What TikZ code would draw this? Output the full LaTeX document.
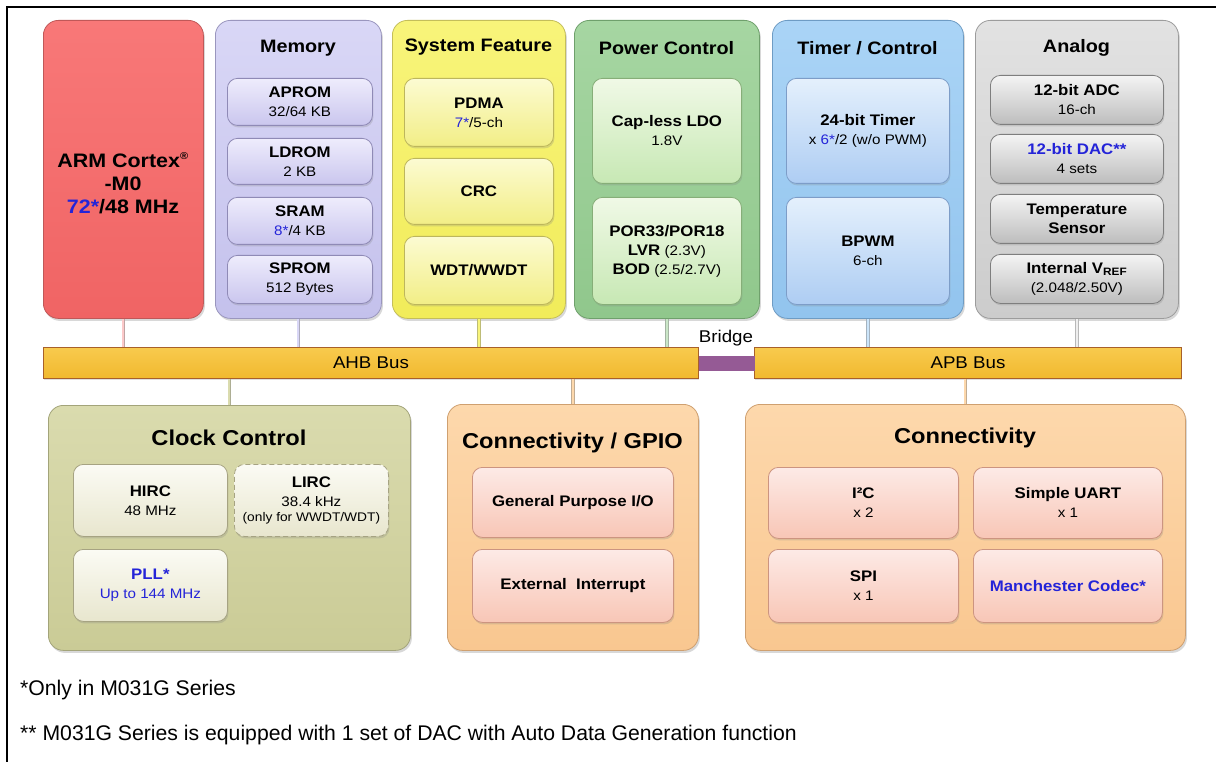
\documentclass[tikz,border=0pt]{standalone}
\usepackage{fontspec}
\setmainfont{Liberation Sans}
\newfontfamily\dfont{Liberation Sans}[FakeStretch=1.1]
\usetikzlibrary{shadows}
\definecolor{tblue}{HTML}{2424D8}
% outer colours
\definecolor{armT}{HTML}{F87878}\definecolor{armB}{HTML}{F06464}\definecolor{armD}{HTML}{C05858}
\definecolor{memT}{HTML}{D9D7F6}\definecolor{memB}{HTML}{C4C1EC}\definecolor{memD}{HTML}{9A96BE}
\definecolor{sysT}{HTML}{F8F47A}\definecolor{sysB}{HTML}{F1EC5A}\definecolor{sysD}{HTML}{C4BE5A}
\definecolor{pwrT}{HTML}{A6D6A2}\definecolor{pwrB}{HTML}{90C78C}\definecolor{pwrD}{HTML}{6FA06C}
\definecolor{tmrT}{HTML}{AAD4F6}\definecolor{tmrB}{HTML}{92C4EE}\definecolor{tmrD}{HTML}{6E9CC4}
\definecolor{anaT}{HTML}{E2E2E2}\definecolor{anaB}{HTML}{CCCCCC}\definecolor{anaD}{HTML}{9C9C9C}
\definecolor{clkT}{HTML}{DADBAE}\definecolor{clkB}{HTML}{CACB96}\definecolor{clkD}{HTML}{A3A47A}
\definecolor{conT}{HTML}{FDD8AC}\definecolor{conB}{HTML}{F9C790}\definecolor{conD}{HTML}{CFA070}
% inner colours
\definecolor{imemT}{HTML}{EEECFC}\definecolor{imemB}{HTML}{CAC6EE}\definecolor{imemD}{HTML}{8F8AB6}
\definecolor{isysT}{HTML}{FCFBD2}\definecolor{isysB}{HTML}{F2EE86}\definecolor{isysD}{HTML}{BDB65C}
\definecolor{ipwrT}{HTML}{F0F9E6}\definecolor{ipwrB}{HTML}{C7E8B4}\definecolor{ipwrD}{HTML}{86AE78}
\definecolor{itmrT}{HTML}{E4F0FC}\definecolor{itmrB}{HTML}{AECDF3}\definecolor{itmrD}{HTML}{7D9DC8}
\definecolor{ianaT}{HTML}{F4F4F4}\definecolor{ianaB}{HTML}{BDBDBD}\definecolor{ianaD}{HTML}{7E7E7E}
\definecolor{iclkT}{HTML}{FBFBF4}\definecolor{iclkB}{HTML}{E8E6CE}\definecolor{iclkD}{HTML}{A6A382}
\definecolor{iconT}{HTML}{FDEAE6}\definecolor{iconB}{HTML}{F8C6B6}\definecolor{iconD}{HTML}{CC9480}
\definecolor{busT}{HTML}{F8CA4E}\definecolor{busB}{HTML}{F1B92E}\definecolor{busD}{HTML}{A8602A}
\definecolor{brg}{HTML}{955A95}
\newcommand\boldl[1]{{\fontsize{15.3}{19}\selectfont\bfseries #1}}
\newcommand\regl[1]{{\fontsize{13.8}{19}\selectfont #1}}
\tikzset{
  outerbox/.style n args={3}{anchor=north west, inner sep=0pt, rounded corners=15pt,
    line width=0.8pt, draw=#3, top color=#1, bottom color=#2,
    drop shadow={shadow xshift=1.5pt, shadow yshift=-2.5pt, opacity=0.3}},
  innerbox/.style n args={3}{anchor=north west, inner sep=0pt, rounded corners=10pt,
    line width=0.8pt, draw=#3, top color=#1, bottom color=#2, align=center,
    font=\dfont\fontsize{14}{19}\selectfont,
    drop shadow={shadow xshift=1pt, shadow yshift=-2pt, opacity=0.25}},
  title/.style={font=\dfont\fontsize{18}{22}\selectfont\bfseries, inner sep=0pt},
  btitle/.style={font=\dfont\fontsize{21.5}{25}\selectfont\bfseries, inner sep=0pt},
  bus/.style={anchor=north west, inner sep=0pt, line width=0.9pt, draw=busD,
    top color=busT, bottom color=busB, font=\dfont\fontsize{17}{20}\selectfont,
    drop shadow={shadow xshift=1pt, shadow yshift=-1.5pt, opacity=0.25}},
  link/.style={draw=#1!70!black!80, double=#1, double distance=2pt, line width=0.6pt},
  note/.style={anchor=west, inner sep=0pt, font=\fontsize{21.2}{25}\selectfont},
}
\begin{document}
\begin{tikzpicture}[x=1pt,y=-1pt]
\useasboundingbox (0,0) rectangle (1216,762);
\fill[white] (0,0) rectangle (1216,762);
% frame
\draw[line width=2pt] (6.5,762) -- (6.5,7) -- (1216,7);

% ---------- top blocks ----------
\node[outerbox={armT}{armB}{armD}, minimum width=160pt, minimum height=298pt] (arm) at (43,20) {};
\node[font=\dfont\fontsize{19.5}{23}\selectfont\bfseries, align=center, inner sep=0pt] (armtxt) at (123,183)
  {ARM Cortex\textsuperscript{\fontsize{10}{10}\selectfont ®}\\-M0\\\textcolor{tblue}{72*}/48 MHz};

\node[outerbox={memT}{memB}{memD}, minimum width=166pt, minimum height=298pt] (mem) at (215,20) {};
\node[title] (memt) at (298,48) {Memory};
\node[innerbox={imemT}{imemB}{imemD}, minimum width=145pt, minimum height=47pt] (aprom) at (227,78) {\boldl{APROM}\\\regl{32/64 KB}};
\node[innerbox={imemT}{imemB}{imemD}, minimum width=145pt, minimum height=46pt] (ldrom) at (227,138) {\boldl{LDROM}\\\regl{2 KB}};
\node[innerbox={imemT}{imemB}{imemD}, minimum width=145pt, minimum height=47pt] (sram) at (227,197) {\boldl{SRAM}\\\regl{\textcolor{tblue}{8*}/4 KB}};
\node[innerbox={imemT}{imemB}{imemD}, minimum width=145pt, minimum height=48pt] (sprom) at (227,255) {\boldl{SPROM}\\\regl{512 Bytes}};

\node[outerbox={sysT}{sysB}{sysD}, minimum width=173pt, minimum height=298pt] (sys) at (392,20) {};
\node[title] (syst) at (478.5,47) {System Feature};
\node[innerbox={isysT}{isysB}{isysD}, minimum width=149pt, minimum height=68pt] (pdma) at (404,78) {\boldl{PDMA}\\\regl{\textcolor{tblue}{7*}/5-ch}};
\node[innerbox={isysT}{isysB}{isysD}, minimum width=149pt, minimum height=66pt] (crc) at (404,158) {\boldl{CRC}};
\node[innerbox={isysT}{isysB}{isysD}, minimum width=149pt, minimum height=68pt] (wdt) at (404,236) {\boldl{WDT/WWDT}};

\node[outerbox={pwrT}{pwrB}{pwrD}, minimum width=185pt, minimum height=298pt] (pwr) at (574,20) {};
\node[title] (pwrt) at (666.5,48) {Power Control};
\node[innerbox={ipwrT}{ipwrB}{ipwrD}, minimum width=149pt, minimum height=105pt] (ldo) at (592,78) {\boldl{Cap-less LDO}\\\regl{1.8V}};
\node[innerbox={ipwrT}{ipwrB}{ipwrD}, minimum width=149pt, minimum height=107pt] (por) at (592,197)
  {\boldl{POR33/POR18}\\\boldl{LVR} \regl{(2.3V)}\\\boldl{BOD} \regl{(2.5/2.7V)}};

\node[outerbox={tmrT}{tmrB}{tmrD}, minimum width=191pt, minimum height=298pt] (tmr) at (772,20) {};
\node[title] (tmrt) at (867.5,48) {Timer / Control};
\node[innerbox={itmrT}{itmrB}{itmrD}, minimum width=163pt, minimum height=105pt] (timer) at (786,78) {\boldl{24-bit Timer}\\\regl{x \textcolor{tblue}{6*}/2 (w/o PWM)}};
\node[innerbox={itmrT}{itmrB}{itmrD}, minimum width=163pt, minimum height=107pt] (bpwm) at (786,197) {\boldl{BPWM}\\\regl{6-ch}};

\node[outerbox={anaT}{anaB}{anaD}, minimum width=203pt, minimum height=298pt] (ana) at (975,20) {};
\node[title] (anat) at (1076.5,48) {Analog};
\node[innerbox={ianaT}{ianaB}{ianaD}, minimum width=173pt, minimum height=49pt] (adc) at (990,75) {\boldl{12-bit ADC}\\\regl{16-ch}};
\node[innerbox={ianaT}{ianaB}{ianaD}, minimum width=173pt, minimum height=49pt] (dac) at (990,134) {\boldl{\textcolor{tblue}{12-bit DAC**}}\\\regl{4 sets}};
\node[innerbox={ianaT}{ianaB}{ianaD}, minimum width=173pt, minimum height=49pt] (temp) at (990,194) {\boldl{Temperature}\\\boldl{Sensor}};
\node[innerbox={ianaT}{ianaB}{ianaD}, minimum width=173pt, minimum height=49pt] (vref) at (990,254) {\boldl{Internal V\textsubscript{REF}}\\\regl{(2.048/2.50V)}};

% ---------- buses ----------
\node[bus, minimum width=655pt, minimum height=31pt] (ahb) at (43,347) {AHB Bus};
\node[bus, minimum width=427pt, minimum height=31pt] (apb) at (754,347) {APB Bus};
\node[anchor=west, inner sep=0pt, fill=brg, minimum width=56pt, minimum height=15pt] (bridge) at (ahb.east |- 0,363) {};
\node[inner sep=0pt, font=\dfont\fontsize{17}{20}\selectfont] (bridget) at (726,338) {Bridge};

% ---------- bottom blocks ----------
\node[outerbox={clkT}{clkB}{clkD}, minimum width=362pt, minimum height=245pt] (clk) at (48,405) {};
\node[btitle] (clkt) at (229,438) {Clock Control};
\node[innerbox={iclkT}{iclkB}{iclkD}, minimum width=154pt, minimum height=72pt] (hirc) at (73,464) {\boldl{HIRC}\\\regl{48 MHz}};
\node[innerbox={iclkT}{iclkB}{iclkD}, dashed, dash pattern=on 5pt off 3pt, minimum width=154pt, minimum height=72pt] (lirc) at (234,464)
  {\boldl{LIRC}\\\regl{38.4 kHz}\\[-4pt]{\fontsize{12.5}{15}\selectfont (only for WWDT/WDT)}};
\node[innerbox={iclkT}{iclkB}{iclkD}, minimum width=154pt, minimum height=72pt] (pll) at (73,549) {\boldl{\textcolor{tblue}{PLL*}}\\\regl{\textcolor{tblue}{Up to 144 MHz}}};

\node[outerbox={conT}{conB}{conD}, minimum width=251pt, minimum height=246pt] (gpio) at (447,404) {};
\node[btitle] (gpiot) at (572.5,443) {Connectivity / GPIO};
\node[innerbox={iconT}{iconB}{iconD}, minimum width=201pt, minimum height=70pt] (gpo) at (472,467) {\boldl{General Purpose I/O}};
\node[innerbox={iconT}{iconB}{iconD}, minimum width=201pt, minimum height=73pt] (extint) at (472,549) {\boldl{External\ \ Interrupt}};

\node[outerbox={conT}{conB}{conD}, minimum width=440pt, minimum height=246pt] (conn) at (745,404) {};
\node[btitle] (connt) at (965,438) {Connectivity};
\node[innerbox={iconT}{iconB}{iconD}, minimum width=190pt, minimum height=71pt] (i2c) at (768,467) {\boldl{I²C}\\\regl{x 2}};
\node[innerbox={iconT}{iconB}{iconD}, minimum width=189pt, minimum height=71pt] (uart) at (973,467) {\boldl{Simple UART}\\\regl{x 1}};
\node[innerbox={iconT}{iconB}{iconD}, minimum width=190pt, minimum height=73pt] (spi) at (768,549) {\boldl{SPI}\\\regl{x 1}};
\node[innerbox={iconT}{iconB}{iconD}, minimum width=189pt, minimum height=73pt] (manc) at (973,549) {\boldl{\textcolor{tblue}{Manchester Codec*}}};

% ---------- connectors ----------
\draw[link=armT!40!white] (arm.south) -- (arm.south |- ahb.north);
\draw[link=memT] (mem.south) -- (mem.south |- ahb.north);
\draw[link=sysT] (sys.south) -- (sys.south |- ahb.north);
\draw[link=pwrT!60!white] (pwr.south) -- (pwr.south |- ahb.north);
\draw[link=tmrT!60!white] (tmr.south) -- (tmr.south |- apb.north);
\draw[link=anaT!60!white] (ana.south) -- (ana.south |- apb.north);
\draw[link=clkT] (ahb.south -| clk.north) -- (clk.north);
\draw[link=conT] (ahb.south -| gpio.north) -- (gpio.north);
\draw[link=conT] (apb.south -| conn.north) -- (conn.north);

% ---------- notes ----------
\node[note] (n1) at (20,690) {*Only in M031G Series};
\node[note] (n2) at (20,735) {** M031G Series is equipped with 1 set of DAC with Auto Data Generation function};
\end{tikzpicture}
\end{document}
